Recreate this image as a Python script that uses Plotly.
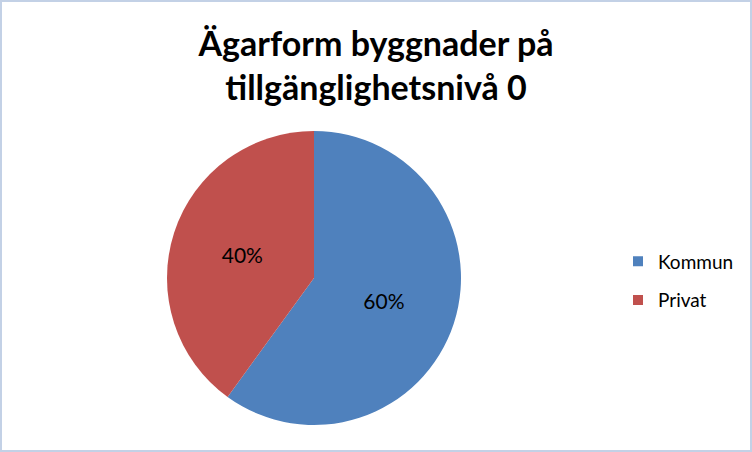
import plotly.graph_objects as go

# data
categories = ["Kommun", "Privat"]
shares = [60, 40]
colors = ["#4F81BD", "#C0504D"]

W, H = 752, 452

fig = go.Figure()

fig.add_trace(
    go.Pie(
        labels=categories,
        values=shares,
        sort=False,
        direction="clockwise",
        rotation=0,
        marker=dict(colors=colors, line=dict(color="white", width=0)),
        texttemplate="%{percent:.0%}",
        textposition="inside",
        insidetextorientation="horizontal",
        textfont=dict(family="Lato", size=21, color="black"),
        domain=dict(x=[167 / W, 461 / W], y=[(H - 425) / H, (H - 131) / H]),
        hoverinfo="label+percent",
        showlegend=False,
    )
)

# legend entries as dummy markers so the item spacing can be set
for cat, col in zip(categories, colors):
    fig.add_trace(
        go.Scatter(
            x=[None],
            y=[None],
            mode="markers",
            name=cat,
            legendgroup=cat,
            marker=dict(symbol="square", size=10, color=col),
        )
    )

fig.update_layout(
    width=W,
    height=H,
    margin=dict(l=0, r=0, t=0, b=0),
    paper_bgcolor="white",
    plot_bgcolor="white",
    xaxis=dict(visible=False),
    yaxis=dict(visible=False),
    title=dict(
        text="<b>Ägarform byggnader på<br>tillgänglighetsnivå 0</b>",
        x=0.5,
        xanchor="center",
        y=1 - 56 / H,
        yanchor="middle",
        font=dict(family="Lato", size=34, color="black"),
    ),
    legend=dict(
        x=618 / W,
        y=(H - 281) / H,
        xanchor="left",
        yanchor="middle",
        font=dict(family="Lato", size=19, color="black"),
        itemwidth=30,
        tracegroupgap=11,
    ),
    shapes=[
        dict(
            type="rect",
            xref="paper",
            yref="paper",
            x0=0,
            y0=0,
            x1=1,
            y1=1,
            line=dict(color="#C3D1E6", width=4),
        )
    ],
)

fig.write_html(
    "out.html",
    config={"displayModeBar": False},
    post_script="document.body.style.margin='0';",
)
